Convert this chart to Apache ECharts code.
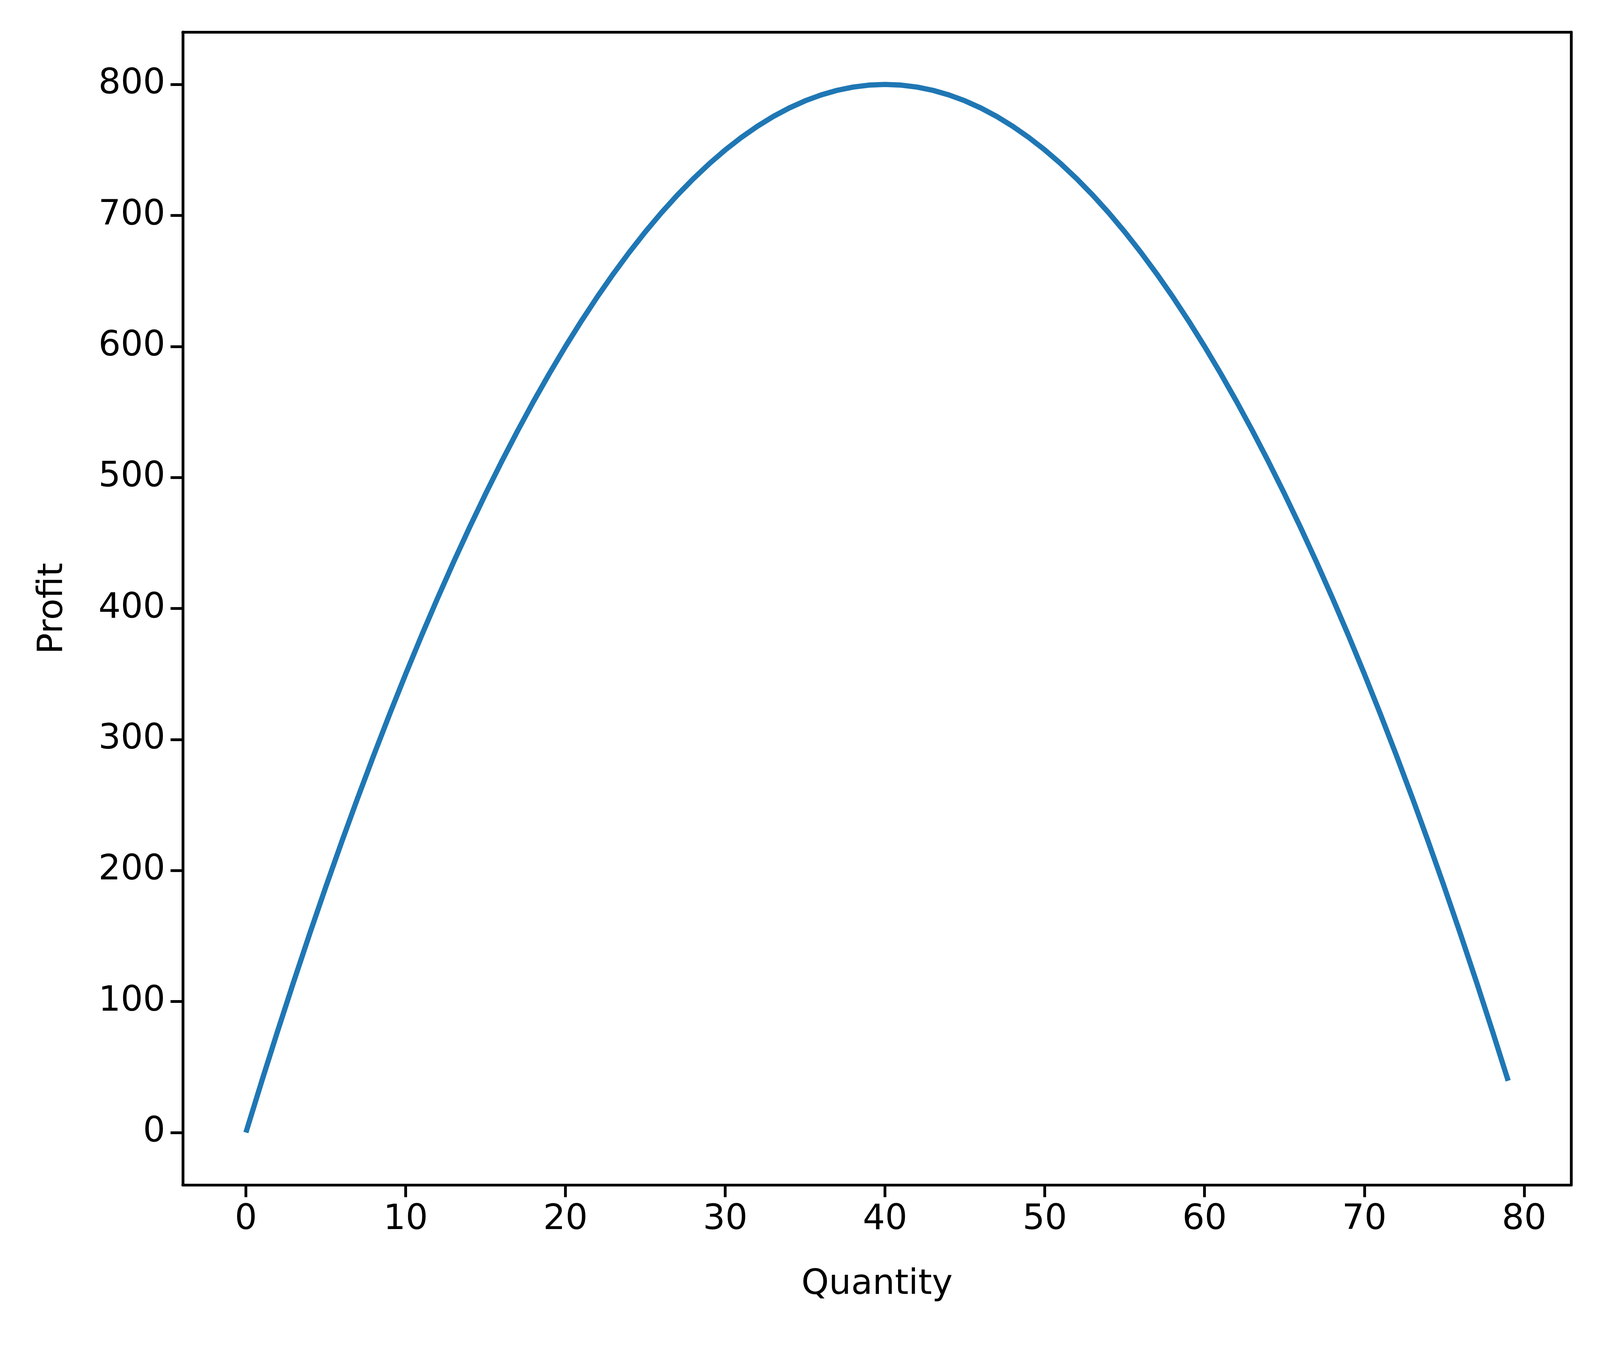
<!DOCTYPE html>
<html><head><meta charset="utf-8">
<script src="https://cdn.jsdelivr.net/npm/echarts@6/dist/echarts.min.js"></script>
<style>html,body{margin:0;padding:0;background:#fff;overflow:hidden}#c{width:100vw;height:100vh}</style>
</head><body><div id="c"></div>
<script>
const quantity = [0,1,2,3,4,5,6,7,8,9,10,11,12,13,14,15,16,17,18,19,20,21,22,23,24,25,26,27,28,29,30,31,32,33,34,35,36,37,38,39,40,41,42,43,44,45,46,47,48,49,50,51,52,53,54,55,56,57,58,59,60,61,62,63,64,65,66,67,68,69,70,71,72,73,74,75,76,77,78,79];
const profit = [0,39.5,78,115.5,152,187.5,222,255.5,288,319.5,350,379.5,408,435.5,462,487.5,512,535.5,558,579.5,600,619.5,638,655.5,672,687.5,702,715.5,728,739.5,750,759.5,768,775.5,782,787.5,792,795.5,798,799.5,800,799.5,798,795.5,792,787.5,782,775.5,768,759.5,750,739.5,728,715.5,702,687.5,672,655.5,638,619.5,600,579.5,558,535.5,512,487.5,462,435.5,408,379.5,350,319.5,288,255.5,222,187.5,152,115.5,78,39.5];
const xTicks = [0,10,20,30,40,50,60,70,80];
const yTicks = [0,100,200,300,400,500,600,700,800];
const font = 'DejaVu Sans';
const W = window.innerWidth, H = window.innerHeight;
const sx = W/4569, sy = H/3453, s = Math.min(sx, sy);
const axisStyle = {color:'#000',width:8*s};
const chart = echarts.init(document.getElementById('c'));
chart.setOption({
  animation:false,
  grid:{left:522*sx,right:82*sx,top:82*sy,bottom:420*sy,show:false,containLabel:false},
  xAxis:[{type:'value',min:-3.95,max:82.95,name:'Quantity',nameLocation:'middle',nameGap:235*s,
    nameTextStyle:{fontFamily:font,fontSize:100*s,color:'#000'},
    axisLine:{show:true,onZero:false,lineStyle:axisStyle},splitLine:{show:false},
    axisTick:{show:true,length:35*s,inside:false,lineStyle:axisStyle,customValues:xTicks},
    axisLabel:{fontFamily:font,fontSize:100*s,color:'#000',margin:50*s,customValues:xTicks}},
    {type:'value',position:'top',min:-3.95,max:82.95,axisLine:{show:true,onZero:false,lineStyle:axisStyle},
    axisTick:{show:false},axisLabel:{show:false},splitLine:{show:false}}],
  yAxis:[{type:'value',min:-40,max:840,name:'Profit',nameLocation:'middle',nameGap:320*s,
    nameTextStyle:{fontFamily:font,fontSize:100*s,color:'#000'},
    axisLine:{show:true,onZero:false,lineStyle:axisStyle},splitLine:{show:false},
    axisTick:{show:true,length:35*s,lineStyle:axisStyle,customValues:yTicks},
    axisLabel:{fontFamily:font,fontSize:100*s,color:'#000',margin:50*s,customValues:yTicks}},
    {type:'value',position:'right',min:-40,max:840,axisLine:{show:true,onZero:false,lineStyle:axisStyle},
    axisTick:{show:false},axisLabel:{show:false},splitLine:{show:false}}],
  series:[{type:'line',data:quantity.map((q,i)=>[q,profit[i]]),showSymbol:false,
    lineStyle:{color:'#1f77b4',width:15*s,cap:'butt'}}]
});
</script></body></html>
